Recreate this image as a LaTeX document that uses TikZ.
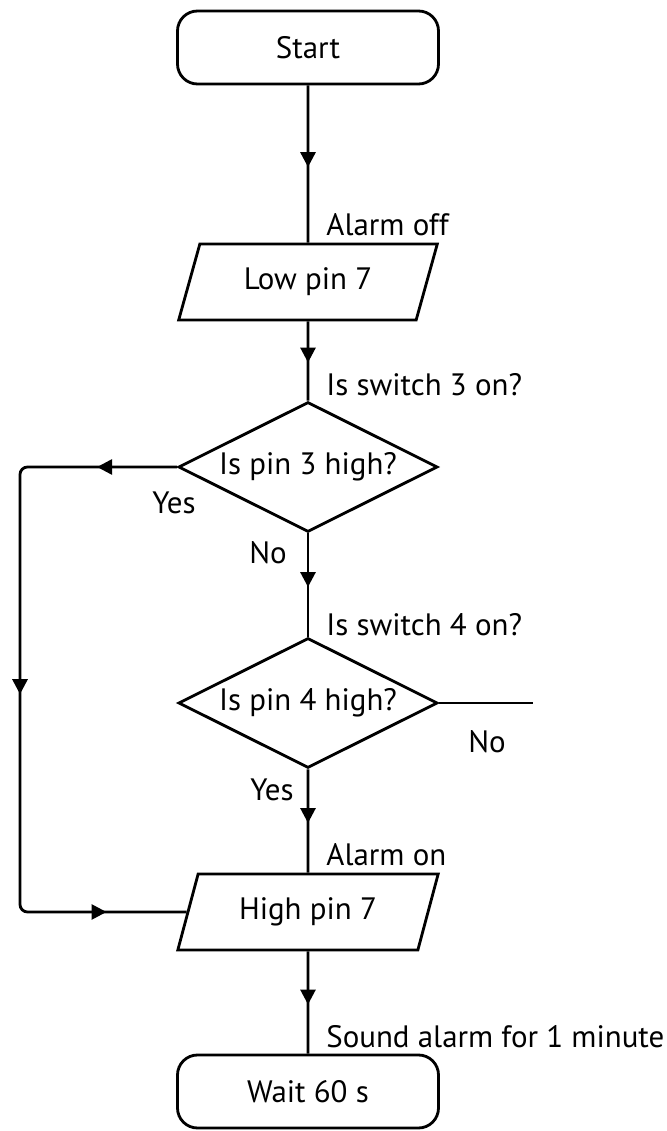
\documentclass[tikz,border=0pt]{standalone}
\usepackage{fontspec}
\setmainfont{PT Sans}
\usetikzlibrary{shapes.geometric,arrows.meta,decorations.markings}

\tikzset{
  terminal/.style={draw,rounded corners=0.4cm,minimum width=5.22cm,minimum height=1.46cm},
  io/.style={draw,trapezium,trapezium left angle=71,trapezium right angle=109,
    trapezium stretches=true,minimum width=5.22cm,minimum height=1.52cm},
  decision/.style={draw,diamond,aspect=2,inner sep=0pt,minimum width=5.18cm,minimum height=2.6cm},
  note/.style={anchor=west,inner sep=0pt},
  midarrow/.style={postaction={decorate},decoration={markings,
    mark=at position 0.52 with {\arrow{Triangle[length=0.3cm,width=0.3cm]}}}},
  looparrows/.style={postaction={decorate},decoration={markings,
    mark=at position 0.105 with {\arrow{Triangle[length=0.3cm,width=0.3cm]}},
    mark=at position 0.5 with {\arrow{Triangle[length=0.3cm,width=0.3cm]}},
    mark=at position 0.895 with {\arrow{Triangle[length=0.3cm,width=0.3cm]}}}}
}

\begin{document}
\begin{tikzpicture}[line width=1.6pt,font=\fontsize{17.6}{21}\selectfont]

\useasboundingbox (0,0) rectangle (13.34,22.62); % page

% Boxes of the chart
\node[terminal] (start) at (6.16,21.67) {Start};
\node[io] (lowpin) at (6.16,16.98) {Low pin 7};
\node[decision] (pin3) at (6.16,13.28) {Is pin 3 high?};
\node[decision] (pin4) at (6.16,8.56) {Is pin 4 high?};
\node[io] (highpin) at (6.16,4.38) {High pin 7};
\node[terminal] (wait) at (6.16,0.79) {Wait 60 s};

% Main line
\draw[midarrow] (start.south) -- (lowpin.north);
\draw[midarrow] (lowpin.south) -- (pin3.north);
\draw[midarrow] (pin3.south) -- (pin4.north);
\draw[midarrow] (pin4.south) -- (highpin.north);
\draw[midarrow] (highpin.south) -- (wait.north);

% Yes branch of pin 3, back round the left side
\coordinate (loopx) at (0.4,0);
\draw[rounded corners=0.15cm,looparrows] (pin3.west) -- (pin3.west -| loopx)
  -- (highpin.left side -| loopx) -- (highpin.left side);

% No branch of pin 4
\coordinate (noend) at (10.66,8.56);
\draw (pin4.east) -- (noend);

% Labels
\node[note] (alarmoff) at (6.5,18.12) {Alarm off};
\node[note] (switch3) at (6.5,14.92) {Is switch 3 on?};
\node (yes3) at (3.48,12.56) {Yes};
\node (no3) at (5.36,11.56) {No};
\node[note] (switch4) at (6.5,10.12) {Is switch 4 on?};
\node (no4) at (9.74,7.78) {No};
\node (yes4) at (5.44,6.82) {Yes};
\node[note] (alarmon) at (6.5,5.52) {Alarm on};
\node[note] (sound) at (6.5,1.88) {Sound alarm for 1 minute};

\end{tikzpicture}
\end{document}
